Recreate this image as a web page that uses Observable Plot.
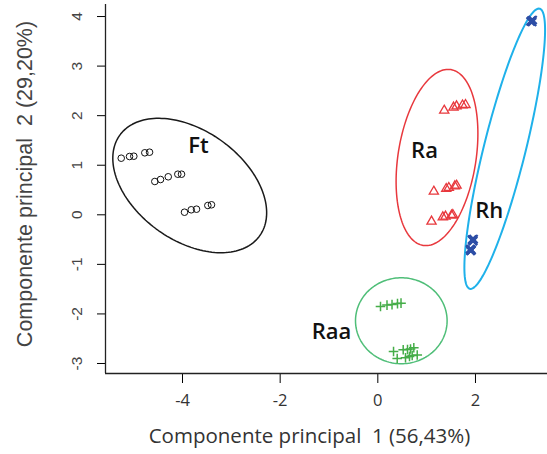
<!DOCTYPE html>
<html><head><meta charset="utf-8">
<script src="https://cdn.jsdelivr.net/npm/d3@7"></script>
<script src="https://cdn.jsdelivr.net/npm/@observablehq/plot@0.6"></script>
<style>
html,body{margin:0;padding:0;background:#fff}
#chart svg{display:block}
</style>
</head><body><div id="chart"></div>
<script>
// ---- data (PCA scores) ----
const ftX = [-5.255,-5.085,-4.997,-4.772,-4.675, -4.567,-4.450,-4.292,-4.096,-4.020, -3.959,-3.821,-3.713,-3.481,-3.406];
const ftY = [1.142,1.176,1.182,1.251,1.263, 0.672,0.712,0.767,0.819,0.819, 0.052,0.101,0.113,0.188,0.202];
const raX = [1.360,1.550,1.612,1.735,1.796, 1.147,1.401,1.454,1.577,1.612, 1.100,1.331,1.386,1.509,1.536];
const raY = [2.104,2.165,2.191,2.209,2.219, 0.470,0.525,0.545,0.577,0.591, -0.135,-0.048,-0.034,-0.014,0.000];
const rhX = [3.13,3.15,3.16,3.14,3.17, 1.93,1.95,1.96,1.94,1.95, 1.89,1.91,1.90,1.92,1.90];
const rhY = [3.90,3.92,3.89,3.91,3.93, -0.50,-0.52,-0.49,-0.51,-0.53, -0.70,-0.72,-0.69,-0.71,-0.73];
const raaX = [0.055,0.188,0.291,0.403,0.475, 0.322,0.520,0.608,0.670,0.737, 0.397,0.567,0.649,0.704,0.807];
const raaY = [-1.850,-1.822,-1.812,-1.792,-1.783, -2.758,-2.723,-2.717,-2.707,-2.683, -2.899,-2.885,-2.859,-2.838,-2.828];

// confidence ellipses: centre, semi-axes, rotation (degrees)
const ellGroup = ["Ft","Ra","Rh","Raa"];
const ellCx = [-3.852, 1.212, 2.599, 0.481];
const ellCy = [0.591, 1.156, 1.333, -2.138];
const ellA  = [1.756, 1.796, 2.915, 0.938];
const ellB  = [1.112, 0.798, 0.427, 0.867];
const ellAngle = [-34.8, 80.9, 75.8, 0];

// group labels
const labText = ["Ft","Ra","Rh","Raa"];
const labX = [-3.675, 0.956, 2.281, -0.948];
const labY = [1.397, 1.297, 0.087, -2.354];

const xTicks = [-4,-2,0,2];
const yTicks = [-3,-2,-1,0,1,2,3,4];
const xTitle = "Componente principal \u00a01 (56,43%)";
const yTitle = "Componente principal \u00a02 (29,20%)";

// ---- build ----
const pts = (xs, ys) => xs.map((x,i)=>({x, y: ys[i]}));
function ellipse(i){
  const out=[]; const r=ellAngle[i]*Math.PI/180, c=Math.cos(r), s=Math.sin(r);
  for(let k=0;k<=160;k++){
    const t=2*Math.PI*k/160, ex=ellA[i]*Math.cos(t), ey=ellB[i]*Math.sin(t);
    out.push({x: ellCx[i]+ex*c-ey*s, y: ellCy[i]+ex*s+ey*c});
  }
  return out;
}
const ellColors = ["#1a1a1a","#e8383d","#1fb1ea","#4fbe78"];
const ellWidths = [1.5,1.5,2,1.5];

const xDomain = [-5.577, 3.475];
const yDomain = [-3.202, 4.243];

const chart = Plot.plot({
  width: 547, height: 454,
  marginLeft: 105, marginRight: 0, marginTop: 4, marginBottom: 81,
  style: {background: "#fff", overflow: "visible"},
  x: {domain: xDomain, ticks: xTicks, tickSize: 10, tickFormat: () => "", label: null},
  y: {domain: yDomain, ticks: yTicks, tickSize: 8, tickFormat: () => "", label: null},
  marks: [
    Plot.ruleX([xDomain[0]], {stroke: "#222", strokeWidth: 1.3}),
    Plot.ruleY([yDomain[0]], {stroke: "#222", strokeWidth: 1.3}),
    ...ellGroup.map((g,i) => Plot.line(ellipse(i), {x: "x", y: "y", stroke: ellColors[i], strokeWidth: ellWidths[i], curve: "linear"})),
    Plot.dot(pts(ftX, ftY), {x: "x", y: "y", symbol: "circle", r: 3.3, fill: "none", stroke: "#111", strokeWidth: 1}),
    Plot.dot(pts(raX, raY), {x: "x", y: "y", symbol: "triangle2", r: 4.4, fill: "none", stroke: "#e8383d", strokeWidth: 1.3}),
    Plot.dot(pts(rhX, rhY), {x: "x", y: "y", symbol: "times", r: 3.8, fill: "none", stroke: "#2d4ea6", strokeWidth: 2.2}),
    Plot.dot(pts(raaX, raaY), {x: "x", y: "y", symbol: "plus", r: 3.2, fill: "none", stroke: "#45ad48", strokeWidth: 1.5}),
    Plot.text(labText.map((t,i)=>({t, x: labX[i], y: labY[i]})), {x: "x", y: "y", text: "t", fontSize: 22, fontWeight: 600, fontFamily: "Open Sans", fill: "#111"}),
    Plot.text(xTicks, {x: d => d, frameAnchor: "bottom", dy: 32, text: d => String(d), fontSize: 16.5, fontFamily: "Open Sans", fill: "#333", textAnchor: "middle"}),
    Plot.text(yTicks, {y: d => d, frameAnchor: "left", dx: -28, rotate: -90, text: d => String(d), fontSize: 15.5, fontFamily: "Liberation Sans", fill: "#444", textAnchor: "middle"}),
    Plot.text([xTitle], {frameAnchor: "bottom", dx: -17, dy: 69, text: d => d, fontSize: 20.5, fontFamily: "Open Sans", fill: "#333", textAnchor: "middle"}),
    Plot.text([yTitle], {frameAnchor: "left", dx: -80, dy: -5, rotate: -90, text: d => d, fontSize: 21.5, fontFamily: "Liberation Sans", fill: "#444", textAnchor: "middle"})
  ]
});
document.getElementById("chart").appendChild(chart);
</script>
</body></html>
